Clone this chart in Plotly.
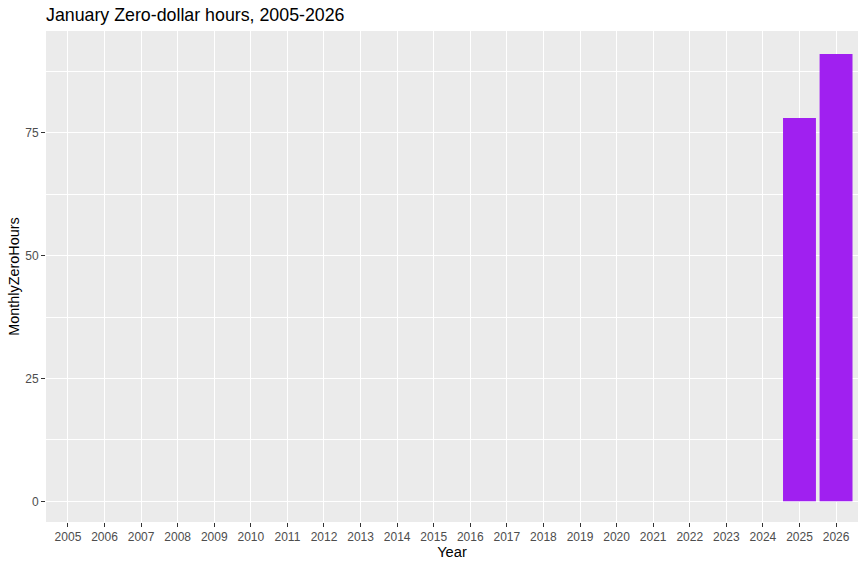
import plotly.graph_objects as go

years = [str(y) for y in range(2005, 2027)]
hours = [0] * 20 + [78, 91]

fig = go.Figure()
fig.add_trace(go.Bar(x=years, y=hours, marker=dict(color="#A020F0", line=dict(width=0)),
                     width=0.9, showlegend=False))

fig.update_layout(
    width=866, height=568,
    margin=dict(l=46, r=8, t=31, b=46),
    paper_bgcolor="white", plot_bgcolor="#EBEBEB",
    font=dict(family="Liberation Sans, Arial", color="#4D4D4D", size=12),
    title=dict(text="January Zero-dollar hours, 2005-2026", x=46 / 866, xanchor="left",
               y=1 - 15 / 568, yanchor="middle", font=dict(size=17.8, color="black")),
    bargap=0.1,
)
fig.update_xaxes(
    type="category", range=[-0.6, 21.6], showgrid=True, gridcolor="white", gridwidth=1.1,
    ticks="outside", ticklen=4, tickcolor="#333333", zeroline=False, automargin=False,
    title=dict(text="Year", font=dict(size=14.7, color="black"), standoff=3),
)
fig.update_yaxes(
    range=[-4.2, 95.7], tickvals=[0, 25, 50, 75], showgrid=True, gridcolor="white", gridwidth=1.1,
    minor=dict(tickvals=[12.5, 37.5, 62.5, 87.5], showgrid=True, gridcolor="white", gridwidth=0.5),
    ticks="outside", ticklen=4, tickcolor="#333333", zeroline=False, automargin=False,
    title=dict(text="MonthlyZeroHours", font=dict(size=14.4, color="black"), standoff=2),
)

# browser body margin would shift the plot by 8px
fig.write_html("out.html", config={"displayModeBar": False},
               post_script="document.body.style.margin='0';")
